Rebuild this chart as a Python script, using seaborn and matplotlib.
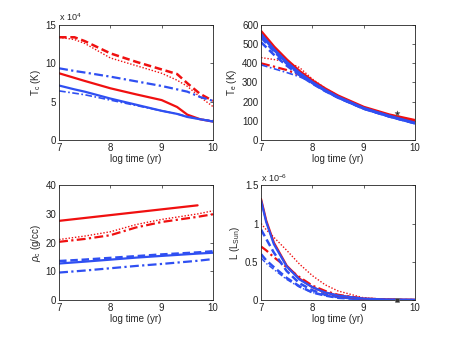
import numpy as np
import pandas as pd
import matplotlib
matplotlib.use('Agg')
import matplotlib.pyplot as plt
import seaborn as sns
#
# Style close to the MATLAB look of the original:
sns.set_style('white')
plt.rcParams['font.family'] = ['Liberation Sans', 'DejaVu Sans']
plt.rcParams['mathtext.fontset'] = 'custom'
plt.rcParams['mathtext.rm'] = 'Liberation Sans'
plt.rcParams['mathtext.it'] = 'Liberation Sans:italic'
plt.rcParams['font.size'] = 7
#
# Central temperature (x 10^4 K):
tc_x = [7, 7.3, 7.5, 8, 8.5, 9, 9.3, 9.5, 9.75, 10]
tc_red_dash = [13.4, 13.4, 12.9, 11.3, 10.2, 9.2, 8.6, 7.4, 6.0, 5.1]
tc_red_dot = [13.4, 13.1, 12.6, 10.7, 9.7, 8.7, 7.8, 7.0, 5.6, 4.35]
tc_blue_dashdot = [9.35, 9.0, 8.8, 8.26, 7.65, 7.04, 6.6, 6.3, 5.6, 5.1]
tc_red_solid = [8.7, 8.1, 7.7, 6.74, 5.95, 5.2, 4.3, 3.3, 2.7, 2.4]
tc_blue_solid = [7.1, 6.6, 6.3, 5.4, 4.6, 3.8, 3.4, 3.0, 2.7, 2.4]
tc_blue_dashdot2 = [6.4, 6.1, 5.9, 5.2, 4.5, 3.8, 3.4, 3.05, 2.7, 2.5]
#
# Effective temperature (K):
te_x = [7, 7.25, 7.5, 7.75, 8, 8.25, 8.5, 9, 9.5, 10]
te_red_solid = [565, 485, 417, 357, 308, 266, 229, 170, 130, 101]
te_blue_solid = [550, 472, 405, 348, 300, 259, 223, 165, 124, 88]
te_blue_dash = [535, 462, 398, 343, 297, 257, 222, 164, 123, 88]
te_blue_dash2 = [510, 445, 388, 338, 294, 255, 221, 163, 122, 87]
te_red_dot = [430, 420, 408, 378, 318, 270, 231, 171, 131, 100]
te_red_dashdot = [400, 383, 365, 340, 305, 265, 228, 169, 129, 100]
te_blue_dashdot = [392, 372, 352, 330, 300, 260, 222, 164, 123, 88]
te_star = ([9.65], [143])
#
# Central density (g/cc):
rho_x = [7, 7.5, 8, 8.5, 9, 9.7, 10]
rho_red_solid = [27.6, 28.6, 29.6, 30.6, 31.6, 33.0, np.nan]
rho_red_dot = [21.1, 22.3, 23.8, 26.3, 28.1, 30.0, 31.1]
rho_red_dashdot = [20.3, 21.3, 22.6, 25.3, 27.2, 29.0, 29.9]
rho_blue_dash = [13.6, 14.1, 14.7, 15.3, 15.9, 16.6, 17.0]
rho_blue_solid = [12.75, 13.4, 14.1, 14.8, 15.4, 16.2, 16.5]
rho_blue_dashdot = [9.6, 10.3, 11.1, 11.9, 12.6, 13.7, 14.3]
#
# Luminosity (x 10^-6 L_sun):
lum_x = [7, 7.1, 7.25, 7.5, 7.75, 8, 8.25, 8.5, 9, 9.5, 10]
lum_red_solid = [1.32, 1.04, 0.75, 0.45, 0.28, 0.17, 0.10, 0.06, 0.02, 0.007, 0.003]
lum_blue_solid = [1.30, 1.02, 0.73, 0.44, 0.27, 0.17, 0.10, 0.06, 0.02, 0.007, 0.003]
lum_red_dot = [1.0, 0.92, 0.82, 0.65, 0.47, 0.32, 0.20, 0.12, 0.03, 0.01, 0.004]
lum_red_dashdot = [0.70, 0.65, 0.56, 0.43, 0.30, 0.19, 0.12, 0.07, 0.02, 0.006, 0.003]
lum_blue_dash = [0.92, 0.80, 0.62, 0.38, 0.22, 0.13, 0.07, 0.04, 0.01, 0.004, 0.002]
lum_blue_dash2 = [0.60, 0.52, 0.43, 0.29, 0.18, 0.10, 0.06, 0.03, 0.01, 0.003, 0.001]
lum_blue_dashdot = [0.55, 0.48, 0.40, 0.27, 0.17, 0.10, 0.06, 0.03, 0.01, 0.003, 0.001]
lum_star = ([9.65], [0.0])
#
RED = '#f01010'
BLUE = '#2f4ff2'
STYLES = {
    'solid': dict(linestyle='-', lw=1.6),
    'dash': dict(linestyle=(0, (3, 1.5)), lw=1.8),
    'dot': dict(linestyle=(0, (1, 1.3)), lw=1.0),
    'dashdot': dict(linestyle=(0, (4, 1.5, 1, 1.5)), lw=1.6),
}
#
# Helper to draw one curve:
def curve(ax, x, y, color, style, lw=None):
    kw = dict(STYLES[style])
    if lw is not None:
        kw['lw'] = lw
    sns.lineplot(x=x, y=y, color=color, ax=ax, legend=False, **kw)
#
# Helper to format one panel:
def finish(ax, ylabel, yticks, ylabels=None, offset=None):
    ax.set_xlim(7, 10)
    ax.set_xticks([7, 8, 9, 10])
    ax.set_ylim(yticks[0], yticks[-1])
    ax.set_yticks(yticks)
    if ylabels is not None:
        ax.set_yticklabels(ylabels)
    ax.set_xlabel('log time (yr)', labelpad=1)
    ax.set_ylabel(ylabel, labelpad=2)
    ax.tick_params(direction='in', length=2.5, width=0.5, top=True, right=True,
                   labelsize=7, pad=2, colors='#222222')
    for s in ax.spines.values():
        s.set_linewidth(0.6)
        s.set_color('#222222')
    if offset is not None:
        ax.text(0.0, 1.015, offset, transform=ax.transAxes, ha='left', va='bottom', fontsize=6.5)
#
fig = plt.figure(figsize=(4.58, 3.38), dpi=100)
ax1 = fig.add_axes([0.129, 0.586, 0.336, 0.340])
ax2 = fig.add_axes([0.570, 0.586, 0.336, 0.340])
ax3 = fig.add_axes([0.129, 0.112, 0.336, 0.340])
ax4 = fig.add_axes([0.570, 0.112, 0.336, 0.340])
#
# Panel 1: T_c
curve(ax1, tc_x, tc_red_dash, RED, 'dash')
curve(ax1, tc_x, tc_red_dot, RED, 'dot')
curve(ax1, tc_x, tc_blue_dashdot, BLUE, 'dashdot')
curve(ax1, tc_x, tc_red_solid, RED, 'solid')
curve(ax1, tc_x, tc_blue_solid, BLUE, 'solid')
curve(ax1, tc_x, tc_blue_dashdot2, BLUE, 'dashdot', lw=1.2)
finish(ax1, r'T$_{\rm c}$ (K)', [0, 5, 10, 15], offset=r'x 10$^{4}$')
#
# Panel 2: T_e
curve(ax2, te_x, te_red_dot, RED, 'dot')
curve(ax2, te_x, te_red_dashdot, RED, 'dashdot')
curve(ax2, te_x, te_blue_dashdot, BLUE, 'dashdot', lw=1.2)
curve(ax2, te_x, te_blue_dash2, BLUE, 'dash')
curve(ax2, te_x, te_blue_dash, BLUE, 'dash')
curve(ax2, te_x, te_red_solid, RED, 'solid', lw=2.4)
curve(ax2, te_x, te_blue_solid, BLUE, 'solid', lw=2.2)
sns.scatterplot(x=te_star[0], y=te_star[1], marker='*', color='#222222', s=14,
                edgecolor='#666666', linewidth=0.4, ax=ax2, zorder=5)
finish(ax2, r'T$_{\rm e}$ (K)', [0, 100, 200, 300, 400, 500, 600])
#
# Panel 3: rho_c
curve(ax3, rho_x, rho_red_solid, RED, 'solid')
curve(ax3, rho_x, rho_red_dot, RED, 'dot')
curve(ax3, rho_x, rho_red_dashdot, RED, 'dashdot')
curve(ax3, rho_x, rho_blue_dash, BLUE, 'dash')
curve(ax3, rho_x, rho_blue_solid, BLUE, 'solid')
curve(ax3, rho_x, rho_blue_dashdot, BLUE, 'dashdot')
finish(ax3, r'$\rho_{\rm c}$ (g/cc)', [0, 10, 20, 30, 40])
#
# Panel 4: L
curve(ax4, lum_x, lum_red_dot, RED, 'dot')
curve(ax4, lum_x, lum_red_dashdot, RED, 'dashdot')
curve(ax4, lum_x, lum_blue_dashdot, BLUE, 'dashdot', lw=1.0)
curve(ax4, lum_x, lum_blue_dash2, BLUE, 'dash')
curve(ax4, lum_x, lum_blue_dash, BLUE, 'dash')
curve(ax4, lum_x, lum_red_solid, RED, 'solid')
curve(ax4, lum_x, lum_blue_solid, BLUE, 'solid')
sns.scatterplot(x=lum_star[0], y=lum_star[1], marker='s', color='#333333', s=8,
                edgecolor='#777777', linewidth=0.4, ax=ax4, zorder=5, clip_on=False)
finish(ax4, r'L (L$_{\rm Sun}$)', [0, 0.5, 1, 1.5], ['0', '0.5', '1', '1.5'],
       offset=r'x 10$^{-6}$')
#
fig.savefig('out.png', dpi=100)
